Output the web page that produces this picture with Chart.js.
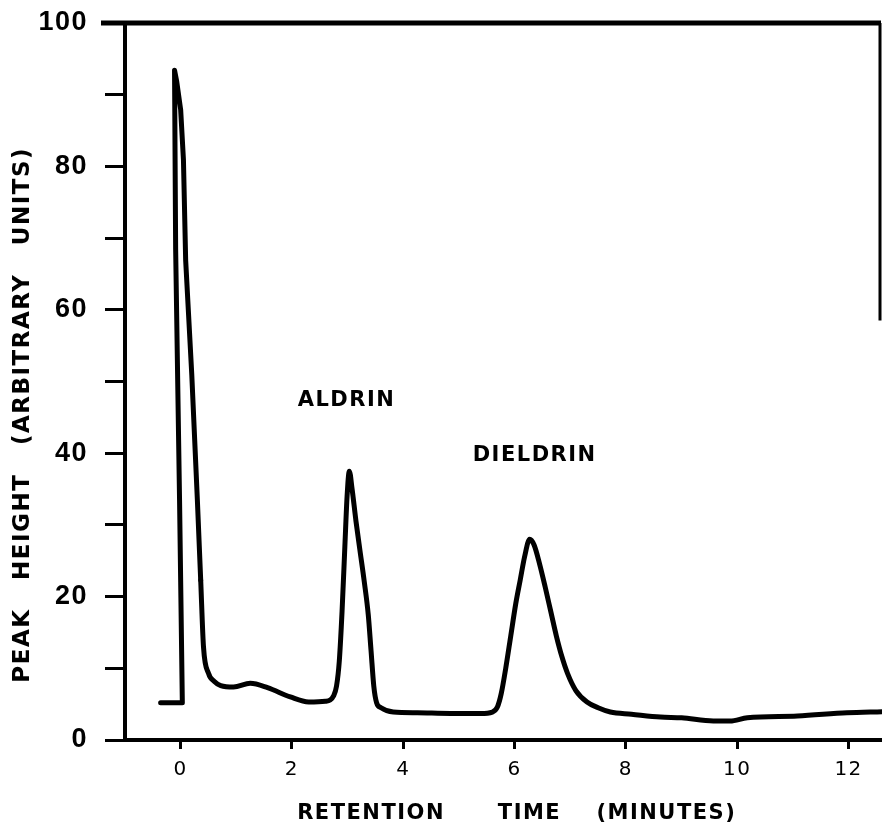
<!DOCTYPE html>
<html><head><meta charset="utf-8">
<script src="https://cdn.jsdelivr.net/npm/chart.js@4"></script>
<style>html,body{margin:0;padding:0;background:#fff}</style>
</head><body>
<canvas id="c" width="882" height="828"></canvas>
<script>
// Solvent spike (drawn with straight segments; x is not monotone here)
const spikeTime   = [-0.36, 0.03, -0.02, -0.09, -0.11, -0.07, 0.0, 0.05, 0.09, 0.2, 0.3, 0.36];
const spikeHeight = [5.2, 5.2, 33.5, 68.4, 93.4, 91.8, 87.9, 80.9, 66.9, 50.9, 33.5, 22.3];
// Remainder of the chromatogram
const traceTime = [0.36,0.41,0.5,0.6,0.72,0.95,1.25,1.56,1.97,2.3,2.6,2.75,2.8,2.85,2.9,2.95,2.99,3.03,3.08,3.15,3.22,3.3,3.37,3.42,3.47,3.52,3.6,3.82,4.25,4.85,5.39,5.6,5.69,5.76,5.84,5.93,6.02,6.1,6.18,6.27,6.35,6.45,6.55,6.65,6.75,6.85,6.95,7.1,7.3,7.5,7.72,8.1,8.62,9.0,9.57,9.87,10.18,11.08,11.97,12.6];
const traceHeight = [22.3,13.0,9.3,8.2,7.6,7.4,7.9,7.3,6.0,5.3,5.4,6.2,7.5,11,18,27,34,37.5,35,30.5,26.5,22,17.5,12.5,7.5,5.2,4.5,3.9,3.8,3.7,3.7,3.9,4.6,6.5,10,14.5,19,22.3,25.6,28.0,27.2,24.5,21.3,17.9,14.5,11.6,9.3,6.9,5.3,4.5,3.9,3.6,3.2,3.1,2.65,2.65,3.1,3.35,3.8,3.95];
const xTickValues = [0, 2, 4, 6, 8, 10, 12];
const yLabelValues = [0, 20, 40, 60, 80, 100];
const peakNames = ['ALDRIN', 'DIELDRIN'];
const peakNameTime = [2.98, 6.36];
const peakNameHeight = [47.4, 39.7];
const rightFrameDownTo = 58.5;
const xTitle = '   RETENTION      TIME    (MINUTES)';
const yTitle = 'PEAK   HEIGHT   (ARBITRARY   UNITS)       ';

const LS = '1.5px';
const framePlugin = {
  id: 'frame',
  beforeUpdate(chart){ chart.ctx.letterSpacing = LS; },
  beforeDraw(chart){
    const ctx = chart.ctx; ctx.letterSpacing = LS;
    ctx.save(); ctx.fillStyle = '#fff'; ctx.fillRect(0,0,chart.width,chart.height); ctx.restore();
  },
  afterDraw(chart){
    const {ctx, chartArea:a, scales:{x, y}} = chart;
    ctx.save();
    ctx.strokeStyle = '#000';
    ctx.lineWidth = 5;
    ctx.beginPath(); ctx.moveTo(a.left - 24, a.top); ctx.lineTo(a.right - 1, a.top); ctx.stroke();
    ctx.lineWidth = 3;
    ctx.beginPath(); ctx.moveTo(a.right - 2, a.top); ctx.lineTo(a.right - 2, y.getPixelForValue(rightFrameDownTo)); ctx.stroke();
    ctx.fillStyle = '#000';
    ctx.font = 'bold 21px "DejaVu Sans"';
    ctx.textAlign = 'center'; ctx.textBaseline = 'middle';
    peakNames.forEach((n,i)=>ctx.fillText(n, x.getPixelForValue(peakNameTime[i]), y.getPixelForValue(peakNameHeight[i])));
    ctx.restore();
  }
};

const noPad = s => { s.paddingTop = 0; s.paddingBottom = 0; s.paddingLeft = 0; s.paddingRight = 0; };

new Chart(document.getElementById('c'), {
  type: 'scatter',
  data: { datasets: [
    { data: spikeTime.map((t,i)=>({x:t, y:spikeHeight[i]})), showLine:true, tension:0,
      borderColor:'#000', borderWidth:5, pointRadius:0, borderJoinStyle:'round', borderCapStyle:'round' },
    { data: traceTime.map((t,i)=>({x:t, y:traceHeight[i]})), showLine:true, cubicInterpolationMode:'monotone',
      borderColor:'#000', borderWidth:5, pointRadius:0, borderJoinStyle:'round', borderCapStyle:'round' }
  ]},
  options: {
    responsive:false, animation:false, devicePixelRatio:1,
    layout:{ padding:{ top:23, right:0, bottom:0, left:0 } },
    plugins:{ legend:{display:false}, tooltip:{enabled:false} },
    scales:{
      x:{ type:'linear', min:-1, max:12.6,
        afterBuildTicks:s=>{ s.ticks = xTickValues.map(v=>({value:v})); },
        afterFit:s=>{ s.height = 88; noPad(s); },
        border:{ display:true, width:4, color:'#000' },
        grid:{ display:true, drawOnChartArea:false, drawTicks:true, tickLength:9, tickWidth:3, tickColor:'#000' },
        ticks:{ color:'#000', padding:9, font:{ family:'"DejaVu Sans"', size:20 }, maxRotation:0 },
        title:{ display:true, text:xTitle, color:'#000', font:{ family:'"DejaVu Sans"', size:21, weight:'bold' }, padding:{top:2,bottom:2} }
      },
      y:{ type:'linear', min:0, max:100,
        afterFit:s=>{ s.width = 125; noPad(s); },
        border:{ display:true, width:4, color:'#000' },
        grid:{ display:true, drawOnChartArea:false, drawTicks:true, tickLength:20, tickWidth:3, tickColor:'#000' },
        ticks:{ stepSize:10, color:'#000', padding:17, font:{ family:'"Liberation Sans Narrow", "Liberation Sans"', size:27, weight:'bold' },
          callback:v=> yLabelValues.includes(v) ? String(v) : '' },
        title:{ display:true, text:yTitle, color:'#000', font:{ family:'"DejaVu Sans"', size:23, weight:'bold' }, padding:{top:9,bottom:0} }
      }
    }
  },
  plugins:[framePlugin]
});
</script>
</body></html>
